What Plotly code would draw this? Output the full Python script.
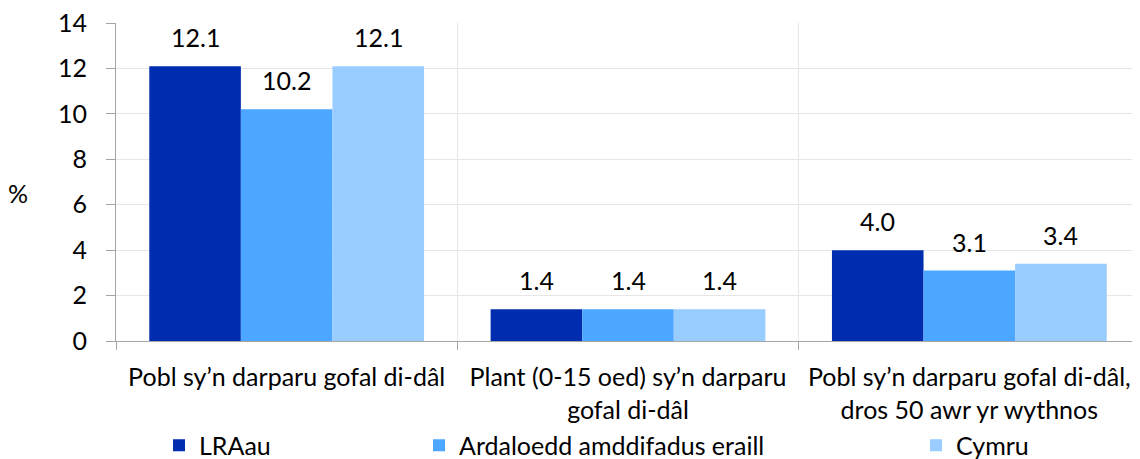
import plotly.graph_objects as go

categories = [
    "Pobl sy’n darparu gofal di-dâl",
    "Plant (0-15 oed) sy’n darparu<br>gofal di-dâl",
    "Pobl sy’n darparu gofal di-dâl,<br>dros 50 awr yr wythnos",
]
series_names = ["LRAau", "Ardaloedd amddifadus eraill", "Cymru"]
lraau = [12.1, 1.4, 4.0]
ardal = [10.2, 1.4, 3.1]
cymru = [12.1, 1.4, 3.4]
y_ticks = [0, 2, 4, 6, 8, 10, 12, 14]

colors = ["#002DAF", "#4DA6FF", "#99CCFF"]
FONT = "Lato"
FS = 25
# page has an 8px body margin, so figure is drawn 8px smaller
W, H = 1132, 451
L, R, T, B = 108, 0, 15, 118
PW = W - L - R
PH = H - T - B
BARGAP = 0.195
BAR_PX = PW / 3 * (1 - BARGAP) / 3

fig = go.Figure()
legends = ["legend", "legend2", "legend3"]
annotations = []
for i, (name, vals, col, lg) in enumerate(zip(series_names, [lraau, ardal, cymru], colors, legends)):
    fig.add_trace(go.Bar(
        x=categories, y=vals, name=name, marker_color=col, marker_line_width=0,
        legend=lg, showlegend=True,
    ))
    for c, v in zip(categories, vals):
        annotations.append(dict(
            x=c, y=v, xref="x", yref="y", text=f"{v:.1f}", showarrow=False,
            xanchor="center", yanchor="bottom", xshift=(i - 1) * BAR_PX, yshift=12,
            font=dict(size=FS, family=FONT, color="#000000"),
        ))

annotations.append(dict(text="%", x=(10 - L) / PW, y=(H - B - 185) / PH,
                        xref="paper", yref="paper",
                        showarrow=False, xanchor="center", yanchor="middle",
                        font=dict(size=FS, family=FONT, color="#000000")))

leg_common = dict(orientation="h", yanchor="middle", xanchor="left",
                  xref="container", yref="container",
                  font=dict(size=FS, family=FONT, color="#000000"),
                  bgcolor="rgba(0,0,0,0)", borderwidth=0)
LEG_Y = 1 - 437.5 / H
fig.update_layout(
    width=W, height=H,
    margin=dict(l=L, r=R, t=T, b=B, autoexpand=False),
    paper_bgcolor="white", plot_bgcolor="white",
    barmode="group", bargap=BARGAP, bargroupgap=0,
    showlegend=True,
    font=dict(family=FONT, size=FS, color="#000000"),
    legend=dict(x=151 / W, y=LEG_Y, **leg_common),
    legend2=dict(x=411 / W, y=LEG_Y, **leg_common),
    legend3=dict(x=908 / W, y=LEG_Y, **leg_common),
    xaxis=dict(
        type="category", tickson="boundaries", showgrid=True,
        gridcolor="#E6E6E6", gridwidth=1,
        showline=True, linecolor="#A6A6A6", linewidth=1,
        ticks="outside", ticklen=8, tickcolor="#A6A6A6",
        ticklabelstandoff=14,
        tickfont=dict(size=FS, family=FONT, color="#000000"),
    ),
    yaxis=dict(
        range=[0, 14], tickvals=y_ticks, showgrid=True,
        gridcolor="#E6E6E6", gridwidth=1,
        showline=True, linecolor="#A6A6A6", linewidth=1,
        ticks="outside", ticklen=9, tickcolor="#A6A6A6",
        ticklabelstandoff=14, ticklabeloverflow="allow",
        tickfont=dict(size=FS, family=FONT, color="#000000"),
        zeroline=False,
    ),
    annotations=annotations,
)

fig.write_html("out.html")
